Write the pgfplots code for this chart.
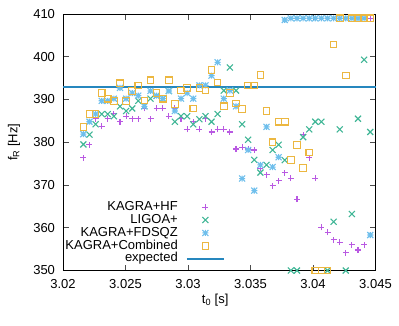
\documentclass[border=0pt]{standalone}
\usepackage{fontspec}
\setmainfont{Liberation Sans}
\usepackage{pgfplots}
\usepackage{pgfplotstable}
\pgfplotsset{compat=1.18}

\definecolor{gp1}{HTML}{9400D3}
\definecolor{gp2}{HTML}{009E73}
\definecolor{gp3}{HTML}{56B4E9}
\definecolor{gp4}{HTML}{E69F00}
\definecolor{gp5}{HTML}{0072B2}

% gnuplot-like point types
\pgfdeclareplotmark{gpplus}{%
  \pgfpathmoveto{\pgfqpoint{-\pgfplotmarksize}{0pt}}%
  \pgfpathlineto{\pgfqpoint{\pgfplotmarksize}{0pt}}%
  \pgfpathmoveto{\pgfqpoint{0pt}{-\pgfplotmarksize}}%
  \pgfpathlineto{\pgfqpoint{0pt}{\pgfplotmarksize}}%
  \pgfusepathqstroke}
\pgfdeclareplotmark{gpcross}{%
  \pgfpathmoveto{\pgfqpoint{-\pgfplotmarksize}{-\pgfplotmarksize}}%
  \pgfpathlineto{\pgfqpoint{\pgfplotmarksize}{\pgfplotmarksize}}%
  \pgfpathmoveto{\pgfqpoint{-\pgfplotmarksize}{\pgfplotmarksize}}%
  \pgfpathlineto{\pgfqpoint{\pgfplotmarksize}{-\pgfplotmarksize}}%
  \pgfusepathqstroke}
\pgfdeclareplotmark{gpstar}{%
  \pgfpathmoveto{\pgfqpoint{-\pgfplotmarksize}{0pt}}%
  \pgfpathlineto{\pgfqpoint{\pgfplotmarksize}{0pt}}%
  \pgfpathmoveto{\pgfqpoint{0pt}{-\pgfplotmarksize}}%
  \pgfpathlineto{\pgfqpoint{0pt}{\pgfplotmarksize}}%
  \pgfpathmoveto{\pgfqpoint{-\pgfplotmarksize}{-\pgfplotmarksize}}%
  \pgfpathlineto{\pgfqpoint{\pgfplotmarksize}{\pgfplotmarksize}}%
  \pgfpathmoveto{\pgfqpoint{-\pgfplotmarksize}{\pgfplotmarksize}}%
  \pgfpathlineto{\pgfqpoint{\pgfplotmarksize}{-\pgfplotmarksize}}%
  \pgfusepathqstroke}

\pgfplotsset{
  gpmarkleg/.style={legend image code/.code={%
    \draw[mark repeat=2,mark phase=2,##1] plot coordinates {(0pt,0pt) (18.5pt,0pt) (37pt,0pt)};}},
  gplineleg/.style={legend image code/.code={%
    \draw[##1] (0pt,0pt) -- (37pt,0pt);}},
}

% t0 [s], fitted f_R [Hz] per detector configuration
\pgfplotstableread{
t       hf    ligo  fdsqz comb
3.02163 376.4 379.5 381.9 383.6
3.02212 379.4 381.8 384.8 386.6
3.02261 385.5 384.2 386.6 386.6
3.02310 383.7 386.6 389.7 391.5
3.02358 385.5 386.6 389.7 390.2
3.02407 386.7 386.1 390.2 389.7
3.02456 384.8 388.4 392.7 393.8
3.02505 386.1 387.3 390.2 389.7
3.02554 385.5 387.9 391.5 392.0
3.02602 385.5 389.7 390.9 393.3
3.02651 387.9 388.4 388.4 389.8
3.02700 385.5 390.2 392.0 394.5
3.02749 387.9 390.9 390.9 391.5
3.02798 387.9 390.2 390.2 390.2
3.02847 386.1 392.0 392.0 394.5
3.02895 387.9 384.8 387.3 389.0
3.02944 385.5 386.1 390.2 392.1
3.02993 383.0 386.1 391.5 392.7
3.03042 384.8 384.2 390.2 387.9
3.03091 383.0 385.4 393.3 392.7
3.03140 385.5 386.1 393.3 392.1
3.03188 382.4 384.8 395.6 396.9
3.03237 383.0 386.6 398.7 394.0
3.03286 383.0 392.1 390.2 388.4
3.03335 382.4 397.5 392.1 391.5
3.03384 378.4 392.1 388.4 389.1
3.03433 378.8 384.2 371.5 387.8
3.03481 378.4 380.6 378.2 393.3
3.03530 378.2 375.9 368.7 393.3
3.03579 373.9 372.9 374.7 395.7
3.03628 372.4 374.7 383.6 387.3
3.03677 369.8 378.2 374.2 380.0
3.03725 371.0 379.4 376.5 384.8
3.03774 372.9 375.8 408.6 384.8
3.03823 371.6 350   409   375.8
3.03872 366.7 350   409   379.4
3.03921 381.8 381.2 409   374.0
3.03970 376.4 383.0 409   377.6
3.04018 371.6 384.8 409   350
3.04067 360.1 384.8 409   350
3.04116 358.9 350   409   350
3.04165 357.2 361.4 409   402.9
3.04214 356.6 383.0 409   409
3.04262 354.2 350   409   395.6
3.04311 356.0 363.2 409   409
3.04360 354.8 385.5 409   409
3.04409 356.0 399.3 409   409
3.04458 409   382.4 358.3 409
}\rdata

\begin{document}
\fontsize{13}{15}\selectfont
\begin{tikzpicture}
\path[use as bounding box] (-63pt,-54.5pt) rectangle (336pt,270.5pt);
\begin{axis}[
    at={(0,0)}, anchor=south west,
    scale only axis, clip=false,
    width=312.5pt, height=256.5pt,
    xmin=3.02, xmax=3.045,
    ymin=350, ymax=410,
    xtick={3.02,3.025,3.03,3.035,3.04,3.045},
    xticklabels={3.02,3.025,3.03,3.035,3.04,3.045},
    ytick={350,360,370,380,390,400,410},
    yticklabels={350,360,370,380,390,400,410},
    tick align=inside, tick pos=both,
    major tick length=5.5pt,
    axis line style={line width=0.9pt},
    tick style={line width=0.8pt, black!70},
    x tick label style={yshift=-4pt},
    y tick label style={xshift=-3.5pt},
    xlabel={t\textsubscript{0} [s]},
    ylabel={f\textsubscript{R} [Hz]},
    every axis x label/.style={at={(axis description cs:0.487,-0.115)}, anchor=center},
    every axis y label/.style={at={(axis description cs:-0.157,0.5)}, rotate=90, anchor=center},
    legend plot pos=right,
    legend cell align=right,
    legend style={at={(0.518,0.02)}, anchor=south east, draw=none, fill=none,
        inner sep=0pt, row sep=0pt, column sep=8pt,
        nodes={inner sep=0.3pt, text height=9.4pt, text depth=2.9pt}},
]
\addplot[only marks, color=gp1!65!white, mark=gpplus, mark size=3pt, line width=1.2pt, gpmarkleg]
    table[x=t, y=hf] {\rdata};
\addlegendentry{KAGRA+HF}
\addplot[only marks, color=gp2!75!white, mark=gpcross, mark size=3pt, line width=1.1pt, gpmarkleg]
    table[x=t, y=ligo] {\rdata};
\addlegendentry{LIGOA+}
\addplot[only marks, color=gp3!85!white, mark=gpstar, mark size=3pt, line width=1.1pt, gpmarkleg]
    table[x=t, y=fdsqz] {\rdata};
\addlegendentry{KAGRA+FDSQZ}
\addplot[only marks, color=gp4!75!white, mark=square, mark size=3.3pt, line width=1.1pt, gpmarkleg]
    table[x=t, y=comb] {\rdata};
\addlegendentry{KAGRA+Combined}
\addplot[draw=gp5!85!white, line width=1.6pt, gplineleg]
    coordinates {(3.02,392.9) (3.045,392.9)};
\addlegendentry{expected}
\end{axis}
\end{tikzpicture}
\end{document}
